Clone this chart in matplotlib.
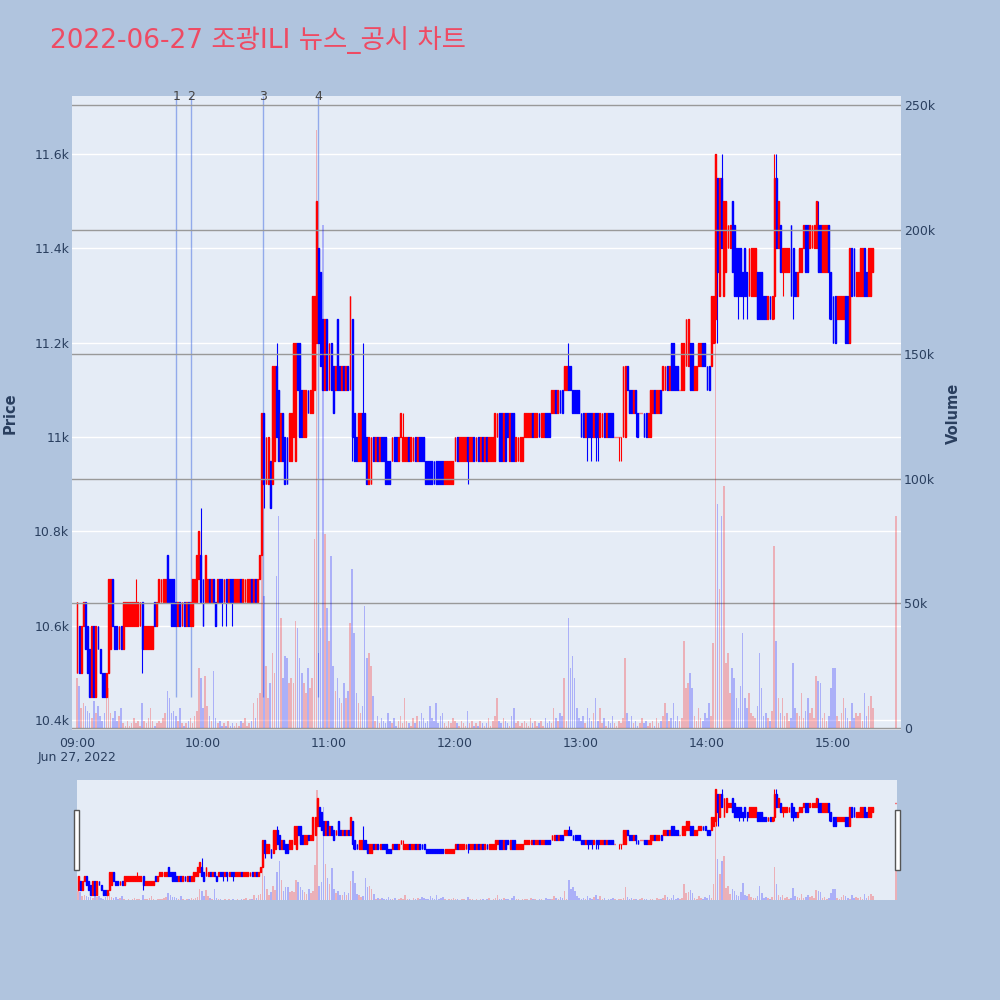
import numpy as np
import matplotlib.pyplot as plt
from matplotlib.patches import Rectangle

plt.rcParams['font.family'] = ['DejaVu Sans', 'Noto Sans CJK KR']

# minutes after 09:00 (1-minute candles, plus the 15:30 closing auction)
minutes = list(range(380)) + [390]

opens = [
    10500, 10600, 10500, 10600, 10650, 10600, 10550, 10450, 10600, 10450,
    10600, 10550, 10500, 10500, 10450, 10500, 10550, 10700, 10600, 10600,
    10550, 10600, 10550, 10600, 10600, 10600, 10600, 10600, 10600, 10600,
    10600, 10650, 10550, 10550, 10550, 10550, 10550, 10650, 10600, 10650,
    10650, 10650, 10650, 10750, 10700, 10700, 10700, 10650, 10600, 10650,
    10600, 10650, 10600, 10650, 10600, 10600, 10650, 10650, 10700, 10750,
    10700, 10650, 10650, 10700, 10650, 10700, 10650, 10650, 10700, 10700,
    10650, 10700, 10650, 10700, 10700, 10650, 10650, 10650, 10700, 10650,
    10650, 10650, 10650, 10700, 10650, 10700, 10650, 10700, 10750, 11050,
    10900, 10900, 10950, 10900, 10950, 11150, 11100, 10950, 11050, 11000,
    11000, 10950, 10950, 11000, 10950, 11200, 11200, 11100, 11000, 11000,
    11100, 11050, 11050, 11100, 11200, 11400, 11350, 11250, 11100, 11250,
    11100, 11200, 11150, 11100, 11250, 11150, 11100, 11150, 11100, 11150,
    11100, 11250, 11050, 11000, 10950, 10950, 11050, 11050, 11000, 10900,
    10900, 11000, 10950, 11000, 10950, 11000, 11000, 11000, 10950, 10950,
    10950, 11000, 11000, 10950, 11000, 10950, 10950, 10950, 11000, 10950,
    10950, 11000, 10950, 11000, 11000, 11000, 10950, 10950, 10950, 10950,
    10950, 10950, 10950, 10950, 10950, 10900, 10900, 10900, 10900, 10900,
    10950, 11000, 10950, 10950, 10950, 10950, 11000, 10950, 10950, 11000,
    10950, 11000, 10950, 11000, 10950, 11000, 10950, 10950, 10950, 10950,
    11000, 11050, 11050, 10950, 11050, 11050, 10950, 11050, 11050, 10950,
    10950, 10950, 10950, 11000, 11000, 11000, 11000, 11050, 11000, 11000,
    11050, 11000, 11000, 11050, 11050, 11050, 11050, 11050, 11100, 11050,
    11100, 11100, 11100, 11100, 11150, 11150, 11100, 11100, 11100, 11100,
    11050, 11050, 11000, 11050, 11050, 11050, 11000, 11050, 11050, 11000,
    11000, 11050, 11000, 11050, 11050, 11050, 11000, 11000, 11000, 11000,
    11000, 11000, 11150, 11100, 11100, 11050, 11100, 11050, 11050, 11050,
    11050, 11050, 11000, 11000, 11050, 11100, 11050, 11050, 11100, 11100,
    11100, 11150, 11100, 11200, 11200, 11150, 11150, 11100, 11100, 11100,
    11150, 11150, 11200, 11200, 11100, 11100, 11150, 11150, 11200, 11200,
    11150, 11150, 11150, 11200, 11250, 11550, 11300, 11550, 11300, 11350,
    11400, 11400, 11500, 11450, 11400, 11400, 11400, 11350, 11400, 11350,
    11300, 11300, 11300, 11300, 11350, 11350, 11350, 11300, 11300, 11250,
    11300, 11250, 11300, 11550, 11400, 11450, 11350, 11350, 11350, 11350,
    11450, 11400, 11350, 11300, 11350, 11350, 11400, 11450, 11450, 11400,
    11400, 11400, 11400, 11450, 11450, 11350, 11350, 11350, 11450, 11350,
    11300, 11300, 11250, 11250, 11250, 11250, 11300, 11300, 11200, 11400,
    11400, 11300, 11300, 11300, 11300, 11400, 11350, 11300, 11300, 11350,
    11450,
]

closes = [
    10650, 10500, 10600, 10650, 10550, 10500, 10450, 10600, 10450, 10600,
    10550, 10500, 10450, 10450, 10500, 10700, 10700, 10600, 10550, 10550,
    10600, 10550, 10650, 10650, 10650, 10650, 10650, 10650, 10650, 10650,
    10650, 10550, 10600, 10600, 10600, 10600, 10600, 10600, 10650, 10700,
    10700, 10700, 10700, 10650, 10650, 10600, 10600, 10600, 10650, 10600,
    10650, 10600, 10650, 10600, 10650, 10700, 10700, 10750, 10800, 10650,
    10600, 10750, 10700, 10650, 10700, 10650, 10600, 10700, 10650, 10650,
    10700, 10650, 10700, 10650, 10650, 10700, 10700, 10700, 10650, 10700,
    10700, 10700, 10700, 10650, 10700, 10650, 10700, 10750, 11050, 10900,
    11000, 11000, 10850, 11150, 11150, 11000, 10950, 11050, 10950, 10900,
    10900, 11050, 11050, 11200, 11200, 11100, 11000, 11000, 11100, 11100,
    11050, 11100, 11300, 11300, 11500, 11200, 11150, 11100, 11250, 11100,
    11200, 11100, 11050, 11150, 11100, 11100, 11150, 11100, 11150, 11100,
    11300, 11000, 10950, 10950, 11050, 11050, 10950, 10950, 10900, 11000,
    11000, 10950, 11000, 10950, 11000, 10950, 10950, 10900, 10900, 10900,
    11000, 10950, 10950, 11000, 11050, 11000, 11000, 11000, 10950, 11000,
    11000, 10950, 11000, 10950, 10950, 10950, 10900, 10900, 10900, 10900,
    10900, 10900, 10900, 10900, 10900, 10950, 10950, 10950, 10950, 10950,
    11000, 10950, 11000, 11000, 11000, 11000, 10950, 11000, 11000, 10950,
    11000, 10950, 11000, 10950, 11000, 10950, 11000, 11000, 11000, 11050,
    11050, 10950, 10950, 11050, 10950, 11000, 11050, 10950, 10950, 11000,
    11000, 11000, 11000, 11050, 11050, 11050, 11050, 11000, 11050, 11050,
    11000, 11050, 11050, 11000, 11000, 11000, 11100, 11100, 11050, 11100,
    11050, 11050, 11150, 11150, 11100, 11100, 11050, 11050, 11050, 11050,
    11000, 11000, 11050, 11000, 11000, 11000, 11050, 11000, 11000, 11050,
    11050, 11000, 11050, 11000, 11000, 11000, 11000, 11000, 11000, 11000,
    11150, 11150, 11100, 11050, 11050, 11100, 11050, 11000, 11050, 11050,
    11000, 11000, 11050, 11100, 11100, 11050, 11100, 11100, 11050, 11150,
    11150, 11100, 11150, 11100, 11100, 11100, 11100, 11100, 11200, 11200,
    11250, 11250, 11100, 11100, 11150, 11150, 11200, 11200, 11150, 11150,
    11100, 11100, 11300, 11300, 11600, 11350, 11550, 11400, 11500, 11500,
    11450, 11450, 11350, 11300, 11300, 11300, 11300, 11300, 11300, 11300,
    11400, 11400, 11400, 11400, 11250, 11250, 11250, 11250, 11250, 11300,
    11250, 11300, 11550, 11400, 11500, 11350, 11400, 11400, 11400, 11400,
    11300, 11300, 11300, 11350, 11400, 11400, 11450, 11350, 11350, 11450,
    11450, 11450, 11500, 11350, 11350, 11450, 11450, 11450, 11350, 11250,
    11200, 11200, 11300, 11300, 11300, 11300, 11200, 11200, 11400, 11300,
    11300, 11350, 11350, 11400, 11400, 11300, 11300, 11400, 11400, 11400,
    11450,
]

# wicks that reach beyond the candle body
wick_highs = {28: 10700, 59: 10850, 95: 11200, 136: 11200, 155: 11050, 234: 11200,
              307: 11600, 332: 11600, 333: 11600, 353: 11500}
wick_lows = {31: 10500, 69: 10600, 71: 10600, 74: 10600, 89: 10850, 131: 10950,
             186: 10900, 243: 10950, 245: 10950, 247: 10950, 248: 10950, 258: 10950,
             259: 10950, 266: 11000, 304: 11200, 305: 11200, 315: 11250, 317: 11250,
             319: 11250, 332: 11250, 336: 11300, 341: 11250, 358: 11250}

# volume in thousands of shares
volumes_k = [
    20, 17, 8, 10, 9, 7, 6, 4, 11, 6,
    9, 5, 3, 6, 14, 16, 6, 4, 7, 3,
    5, 8, 2, 1, 3, 1, 2, 4, 2, 3,
    1, 10, 3, 2, 4, 8, 3, 1, 2, 3,
    2, 4, 6, 15, 12, 6, 7, 5, 3, 8,
    2, 1, 2, 3, 4, 2, 5, 7, 24, 20,
    8, 21, 9, 5, 3, 23, 4, 2, 3, 1,
    2, 1, 3, 1, 2, 1, 2, 1, 3, 2,
    4, 1, 2, 3, 10, 4, 12, 14, 78, 53,
    25, 12, 18, 30, 22, 61, 85, 44, 20, 29,
    28, 18, 20, 18, 43, 40, 28, 22, 18, 14,
    24, 16, 20, 76, 240, 30, 40, 202, 78, 48,
    35, 69, 25, 15, 20, 12, 10, 18, 12, 15,
    42, 64, 38, 14, 10, 6, 9, 49, 28, 30,
    25, 13, 3, 5, 2, 4, 3, 2, 6, 3,
    2, 4, 1, 3, 5, 2, 12, 3, 2, 1,
    4, 2, 5, 3, 6, 4, 2, 3, 9, 4,
    3, 10, 2, 5, 6, 2, 1, 3, 2, 4,
    3, 2, 1, 3, 2, 1, 7, 2, 3, 1,
    2, 1, 3, 2, 1, 2, 4, 1, 3, 5,
    12, 3, 2, 4, 3, 2, 1, 5, 8, 2,
    3, 1, 2, 3, 2, 1, 4, 2, 3, 1,
    2, 3, 1, 4, 2, 3, 2, 8, 4, 3,
    6, 5, 20, 3, 44, 24, 29, 20, 8, 4,
    3, 5, 2, 8, 4, 3, 6, 12, 3, 8,
    2, 4, 1, 3, 2, 5, 2, 1, 3, 2,
    4, 28, 6, 3, 5, 2, 3, 1, 2, 4,
    2, 3, 1, 2, 3, 1, 4, 2, 3, 5,
    10, 6, 3, 4, 10, 3, 5, 3, 4, 35,
    16, 18, 22, 16, 5, 3, 8, 4, 3, 6,
    4, 10, 5, 34, 230, 90, 56, 85, 97, 26,
    30, 14, 24, 20, 12, 8, 17, 38, 12, 8,
    14, 6, 5, 4, 9, 30, 16, 5, 6, 4,
    3, 7, 73, 35, 12, 6, 12, 5, 6, 3,
    4, 26, 8, 6, 5, 14, 4, 7, 12, 6,
    8, 4, 21, 19, 18, 4, 6, 3, 5, 16,
    24, 24, 5, 3, 6, 12, 8, 4, 3, 10,
    4, 6, 5, 6, 3, 14, 5, 9, 13, 8,
    85,
]

# news / disclosure markers (minutes after 09:00)
news_minutes = [47.3, 54.1, 88.7, 114.9]
news_labels = ['1', '2', '3', '4']

hour_labels = ['09:00', '10:00', '11:00', '12:00', '13:00', '14:00', '15:00']
price_ticks = [10400, 10600, 10800, 11000, 11200, 11400, 11600]
price_tick_labels = ['10.4k', '10.6k', '10.8k', '11k', '11.2k', '11.4k', '11.6k']
volume_ticks = [0, 50000, 100000, 150000, 200000, 250000]
volume_tick_labels = ['0', '50k', '100k', '150k', '200k', '250k']

x = np.array(minutes, dtype=float)
o = np.array(opens, dtype=float)
c = np.array(closes, dtype=float)
hi = np.maximum(o, c)
lo = np.minimum(o, c)
for k, v in wick_highs.items():
    hi[k] = max(hi[k], v)
for k, v in wick_lows.items():
    lo[k] = min(lo[k], v)
vol = np.array(volumes_k, dtype=float) * 1000
up = c >= o
colors = np.where(up, '#FF0000', '#0000FF')

PRICE_LIM = (10379, 11723)
VOL_LIM = (-800, 253800)
TXT = '#2a3f5f'
BG = '#E5ECF6'


def draw_candles(axis, body_w, lw):
    axis.vlines(x, lo, hi, colors=colors, linewidth=lw * 0.8, zorder=2)
    axis.bar(x, np.abs(c - o), bottom=np.minimum(o, c), width=body_w, color=colors,
             edgecolor=colors, linewidth=lw, zorder=3)


def draw_volume(axis):
    axis.bar(x, vol, width=0.75, color=colors, alpha=0.25, linewidth=0, zorder=2)


fig = plt.figure(figsize=(10, 10), dpi=100, facecolor='#B0C4DE')

# main chart
ax = fig.add_axes([0.072, 0.270, 0.829, 0.634])
ax.set_facecolor(BG)
draw_candles(ax, 0.42, 1.0)
ax.set_xlim(-2.4, 392.4)
ax.set_ylim(*PRICE_LIM)
ax.set_yticks(price_ticks)
ax.set_yticklabels(price_tick_labels)
ax.set_xticks([0, 60, 120, 180, 240, 300, 360])
ax.set_xticklabels(hour_labels)
ax.grid(True, axis='y', color='white', linewidth=1)
ax.set_axisbelow(True)
ax.tick_params(length=0, labelsize=9, labelcolor=TXT)
ax.tick_params(axis='y', pad=2)
ax.tick_params(axis='x', pad=5)
for s in ax.spines.values():
    s.set_visible(False)

for m, lab in zip(news_minutes, news_labels):
    ax.vlines(m, 10450, PRICE_LIM[1], color='royalblue', alpha=0.5, linewidth=1, zorder=1.5)
    ax.text(m, PRICE_LIM[1], lab, ha='center', va='center', fontsize=9,
            color='#444444', clip_on=False, zorder=6)

ax2 = ax.twinx()
ax2.patch.set_visible(False)
draw_volume(ax2)
ax2.set_ylim(*VOL_LIM)
ax2.set_yticks(volume_ticks)
ax2.set_yticklabels(volume_tick_labels)
ax2.grid(True, axis='y', color='#999999', linewidth=1)
ax2.set_axisbelow(True)
ax2.tick_params(length=0, labelsize=9, labelcolor=TXT, pad=2)
for s in ax2.spines.values():
    s.set_visible(False)

fig.text(0.077, 0.242, 'Jun 27, 2022', ha='center', va='center', fontsize=9, color=TXT)
fig.text(0.010, 0.587, 'Price', rotation=90, ha='center', va='center',
         fontsize=10.5, fontweight='bold', color=TXT)
fig.text(0.953, 0.587, 'Volume', rotation=90, ha='center', va='center',
         fontsize=10.5, fontweight='bold', color=TXT)

fig.text(0.050, 0.960, '2022-06-27 조광ILI 뉴스_공시 차트', ha='left', va='center',
         fontsize=19, color='#EE4B63')

# range slider
sl = fig.add_axes([0.077, 0.100, 0.820, 0.120])
sl.set_facecolor(BG)
draw_candles(sl, 0.45, 1.0)
sl.set_xlim(-0.5, 390.5)
sl.set_ylim(10390, 11700)
sl.set_xticks([])
sl.set_yticks([])
for s in sl.spines.values():
    s.set_visible(False)
sl2 = sl.twinx()
sl2.patch.set_visible(False)
draw_volume(sl2)
sl2.set_ylim(0, 262000)
sl2.set_yticks([])
for s in sl2.spines.values():
    s.set_visible(False)

for hx in (0.0735, 0.8945):
    fig.patches.append(Rectangle((hx, 0.130), 0.005, 0.060, transform=fig.transFigure,
                                 facecolor='white', edgecolor='#555555', linewidth=1))

fig.savefig('out.png', dpi=100, facecolor=fig.get_facecolor())
